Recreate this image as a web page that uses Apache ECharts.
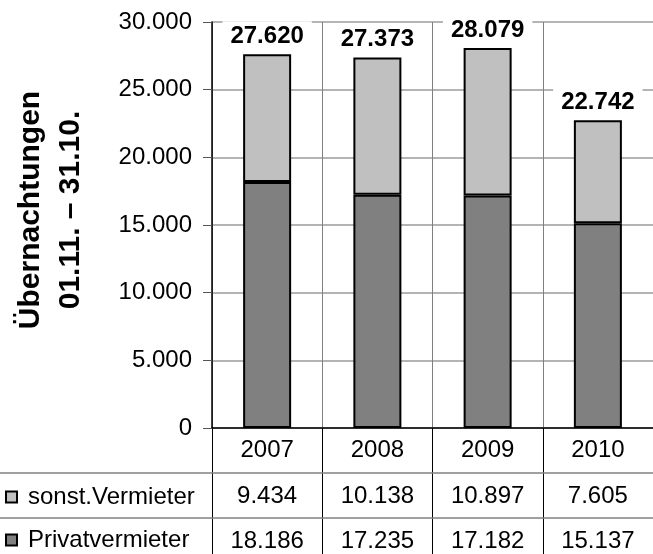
<!DOCTYPE html>
<html>
<head>
<meta charset="utf-8">
<script src="https://cdn.jsdelivr.net/npm/echarts@6/dist/echarts.min.js"></script>
<style>
html,body{margin:0;padding:0;background:#fff;}
#chart{width:653px;height:554px;}
</style>
</head>
<body>
<div id="chart"></div>
<script>
const years = ['2007', '2008', '2009', '2010'];
const sonstVermieter = [9434, 10138, 10897, 7605];
const privatvermieter = [18186, 17235, 17182, 15137];
const totals = [27620, 27373, 28079, 22742];
const yTitle = ['Übernachtungen', '01.11. – 31.10.'];

const FONT = "'Liberation Sans', Arial, sans-serif";
const FS = 24;
function fmt(v) { return String(v).replace(/\B(?=(\d{3})+(?!\d))/g, '.'); }

const chart = echarts.init(document.getElementById('chart'));
chart.setOption({
  animation: false,
  textStyle: { fontFamily: FONT },
  grid: { left: 212, right: 0, top: 22, bottom: 126 },
  legend: {
    orient: 'vertical', left: 5, top: 483, padding: 0,
    itemWidth: 11, itemHeight: 11, itemGap: 15,
    icon: 'rect',
    textStyle: { fontFamily: FONT, fontSize: FS, color: '#000', lineHeight: 28, padding: [0, 0, 0, 6] },
    data: ['sonst.Vermieter', 'Privatvermieter']
  },
  xAxis: {
    type: 'category', data: years,
    axisLine: { show: true, lineStyle: { color: '#000', width: 1.5 } },
    axisTick: { show: true, interval: 0, length: 126, lineStyle: { color: '#000', width: 1 } },
    splitLine: { show: true, interval: 0, lineStyle: { color: '#808080', width: 1 } },
    axisLabel: {
      interval: 0, margin: 0, color: '#000', fontFamily: FONT, fontSize: FS,
      formatter: function (v, i) {
        return '{y|' + v + '}\n{a|' + fmt(sonstVermieter[i]) + '}\n{b|' + fmt(privatvermieter[i]) + '}';
      },
      rich: {
        y: { fontSize: FS, lineHeight: 44, color: '#000', fontFamily: FONT },
        a: { fontSize: FS, lineHeight: 49, color: '#000', fontFamily: FONT },
        b: { fontSize: FS, lineHeight: 40, color: '#000', fontFamily: FONT }
      }
    }
  },
  yAxis: {
    type: 'value', min: 0, max: 30000, interval: 5000,
    axisLine: { show: true, lineStyle: { color: '#000', width: 1.5 } },
    axisTick: { show: true, length: 9, lineStyle: { color: '#555', width: 1 } },
    splitLine: { show: true, lineStyle: { color: '#b4b4b4', width: 2 } },
    axisLabel: { color: '#000', fontSize: FS, fontFamily: FONT, margin: 20, formatter: fmt }
  },
  graphic: [
    { type: 'line', shape: { x1: 0, y1: 473, x2: 653, y2: 473 }, style: { stroke: '#808080', lineWidth: 1.5 }, z: 10 },
    { type: 'line', shape: { x1: 0, y1: 518, x2: 653, y2: 518 }, style: { stroke: '#808080', lineWidth: 1.5 }, z: 10 },
    { type: 'text', x: 31, y: 210, rotation: Math.PI / 2,
      style: { text: yTitle[0], font: 'bold 30px ' + FONT, fill: '#000', align: 'center', verticalAlign: 'middle' } },
    { type: 'text', x: 71, y: 210, rotation: Math.PI / 2,
      style: { text: yTitle[1], font: 'bold 30px ' + FONT, fill: '#000', align: 'center', verticalAlign: 'middle' } }
  ],
  series: [
    {
      name: 'Privatvermieter', type: 'bar', stack: 'a', data: privatvermieter, barWidth: 48,
      itemStyle: { color: '#808080', borderColor: '#000', borderWidth: 2 }
    },
    {
      name: 'sonst.Vermieter', type: 'bar', stack: 'a', data: sonstVermieter, barWidth: 48,
      itemStyle: { color: '#c0c0c0', borderColor: '#000', borderWidth: 2 },
      label: {
        show: true, position: 'top', distance: 5,
        fontFamily: FONT, fontSize: FS, fontWeight: 'bold', color: '#000',
        backgroundColor: '#fff', padding: [3, 8, 1, 8],
        formatter: function (p) { return fmt(totals[p.dataIndex]); }
      }
    }
  ]
});
</script>
</body>
</html>
